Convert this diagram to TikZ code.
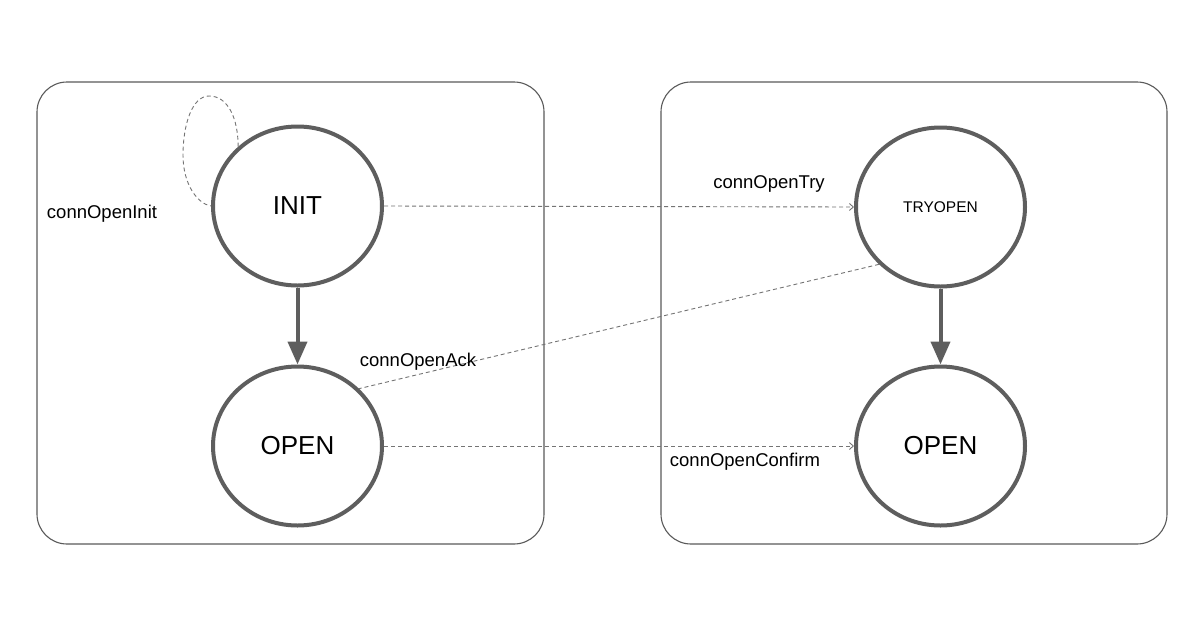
\documentclass[tikz,border=0pt]{standalone}
\usepackage{fontspec}
\setmainfont{Liberation Sans}
\usetikzlibrary{arrows.meta,shapes.geometric}
\definecolor{circgray}{HTML}{5E5E5E}
\definecolor{boxgray}{HTML}{5A5A5A}
\definecolor{dashgray}{HTML}{747474}
\begin{document}
\begin{tikzpicture}[x=1pt,y=-1pt,
  state/.style={ellipse,draw=circgray,line width=4pt,minimum width=169pt,minimum height=159pt,inner sep=0pt,text=black},
  bigfont/.style={font=\fontsize{26}{28}\selectfont},
  smallfont/.style={font=\fontsize{15.5}{17}\selectfont},
  lbl/.style={font=\fontsize{18.5}{20}\selectfont,text=black,inner sep=0pt},
  panel/.style={draw=boxgray,line width=1.1pt,rounded corners=30pt},
  thickarrow/.style={draw=circgray,line width=4pt,-{Triangle[length=23pt,width=19pt]}},
  dashline/.style={draw=dashgray,line width=0.9pt,dash pattern=on 4pt off 3pt},
  dasharrow/.style={dashline,-{Straight Barb[length=4pt,width=7pt]}}
]
\useasboundingbox (0,0) rectangle (1200,630);
\fill[white] (0,0) rectangle (1200,630);

\draw[panel] (37,82) rectangle (544,544);
\draw[panel] (661,82) rectangle (1167,544);

\node[state,bigfont] (init) at (297.5,206) {INIT};
\node[state,bigfont] (openl) at (297.5,446) {OPEN};
\node[state,smallfont] (try) at (940.5,207) {TRYOPEN};
\node[state,bigfont] (openr) at (940.5,446) {OPEN};

\draw[thickarrow] (init.south) -- (openl.north);
\draw[thickarrow] (try.south) -- (openr.north);

\coordinate (looptop) at (209,96);
\coordinate (loopleft) at (183,155);
\draw[dashline] (init.135) .. controls (238,118) and (228,96) .. (looptop)
  .. controls (192,96) and (183,125) .. (loopleft)
  .. controls (183,185) and (198,204) .. (init.west);

\draw[dasharrow] (init.east) -- (try.west);
\draw[dashline] (try.223) -- (openl.43);
\draw[dasharrow] (openl.east) -- (openr.west);

\node[lbl] (l1) at (102,214) {connOpenInit};
\node[lbl] (l2) at (769,184) {connOpenTry};
\node[lbl] (l3) at (418,362) {connOpenAck};
\node[lbl] (l4) at (745,462) {connOpenConfirm};
\end{tikzpicture}
\end{document}
